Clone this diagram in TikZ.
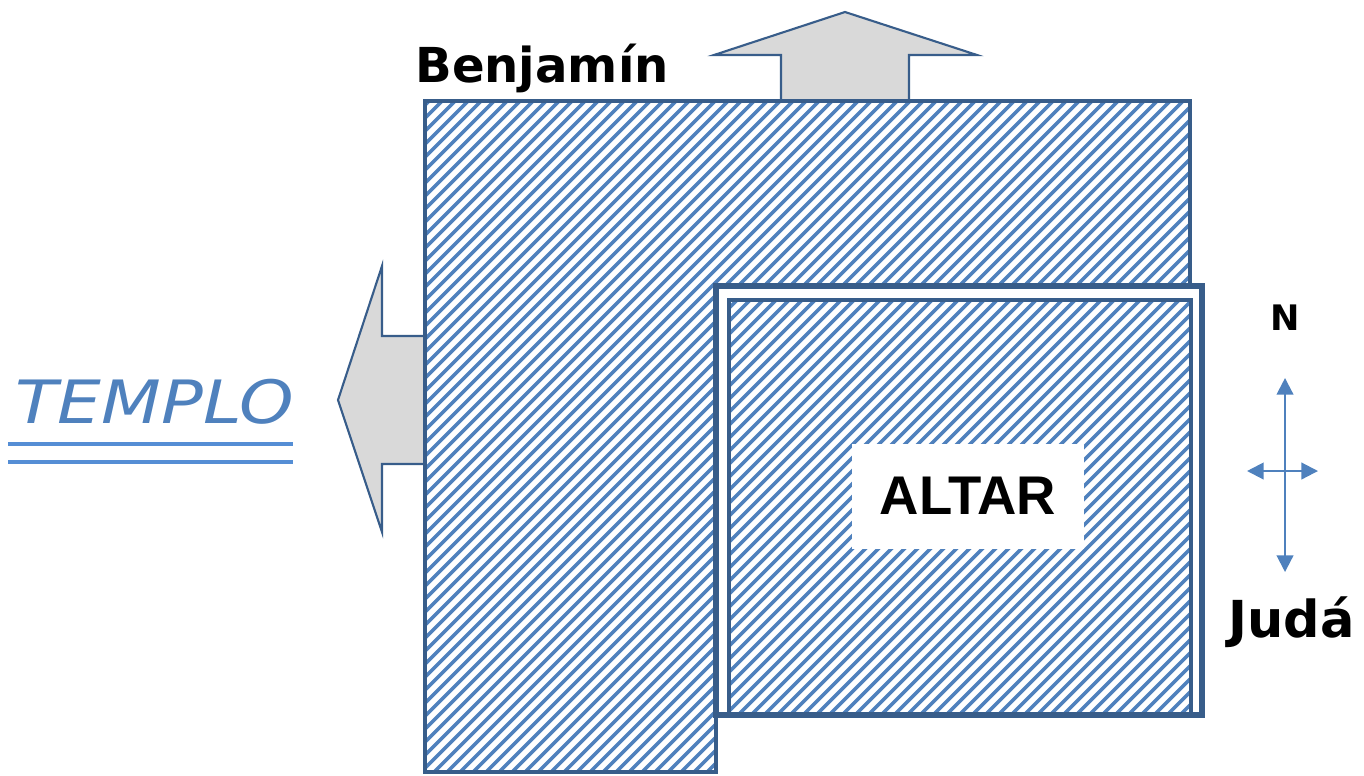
\documentclass[tikz,border=0pt]{standalone}
\usepackage{fontspec}
\setmainfont{DejaVu Sans}
\newfontfamily\arialfont{Liberation Sans}
\usetikzlibrary{arrows.meta}
\definecolor{hatchblue}{HTML}{4F81BD}
\definecolor{edgeblue}{HTML}{385D8A}
\definecolor{arrowgray}{HTML}{D9D9D9}
\definecolor{lineblue}{HTML}{558ED5}
\tikzset{
  stripe/.style={hatchblue,line width=2pt},
  bigarrow/.style={draw=edgeblue,line width=1.2pt,fill=arrowgray,line join=miter},
  wall/.style={draw=edgeblue,line width=2.6pt},
  tagtext/.style={font=\bfseries\fontsize{29}{29}\selectfont,text=black,inner sep=0pt},
  compass/.style={hatchblue,line width=1.2pt,{Triangle[length=9.5pt,width=9.5pt]}-{Triangle[length=9.5pt,width=9.5pt]}}
}
\newcommand{\hatchstripes}{\foreach \k in {-32,...,96} \draw[stripe] (\k*13,790) -- ++(820,-820);}
\begin{document}
\begin{tikzpicture}[x=0.02cm,y=-0.02cm]
\useasboundingbox (0,0) rectangle (1364,775);

% exits
\draw[bigarrow] (845,12) -- (977,55) -- (909,55) -- (909,101) -- (781,101) -- (781,55) -- (714,55) -- cycle;
\draw[bigarrow] (338,400) -- (382,266) -- (382,336) -- (425,336) -- (425,464) -- (382,464) -- (382,532) -- cycle;

% court
\begin{scope}
\clip (425,101) -- (1190,101) -- (1190,287) -- (716,287) -- (716,772) -- (425,772) -- cycle;
\hatchstripes
\end{scope}
\draw[wall] (425,101) -- (1190,101) -- (1190,287) -- (716,287) -- (716,772) -- (425,772) -- cycle;

% altar
\draw[wall,line width=3.2pt,fill=white] (716,286) rectangle (1202,715);
\begin{scope}
\clip (729,300) rectangle (1191,714);
\hatchstripes
\end{scope}
\draw[wall,line width=2.4pt] (729,300) rectangle (1191,714);
\node (altar) [fill=white,minimum width=4.66cm,minimum height=2.1cm,font=\arialfont\bfseries\fontsize{31}{31}\selectfont] at (968,496) {ALTAR};

% names
\node (benjamin) [tagtext,font=\bfseries\fontsize{27.4}{27.4}\selectfont,anchor=base west] at (415,82) {Benjamín};
\node (juda) [tagtext,anchor=base west] at (1228,637) {Judá};
\node (north) [tagtext,font=\bfseries\fontsize{20}{20}\selectfont] at (1285,318) {N};
\node (templo) [inner sep=0pt,anchor=base west,text=hatchblue,font=\itshape\fontsize{34}{34}\selectfont] at (15,423) {\scalebox{1.16}[1]{TEMPLO}};
\draw[lineblue,line width=2.8pt] (8,444) -- (293,444);
\draw[lineblue,line width=2.8pt] (8,462) -- (293,462);

% compass
\coordinate (cn) at (1285,378);
\coordinate (cs) at (1285,572);
\coordinate (cw) at (1247,471);
\coordinate (ce) at (1318,471);
\draw[compass] (cs) -- (cn);
\draw[compass] (cw) -- (ce);

\end{tikzpicture}
\end{document}
